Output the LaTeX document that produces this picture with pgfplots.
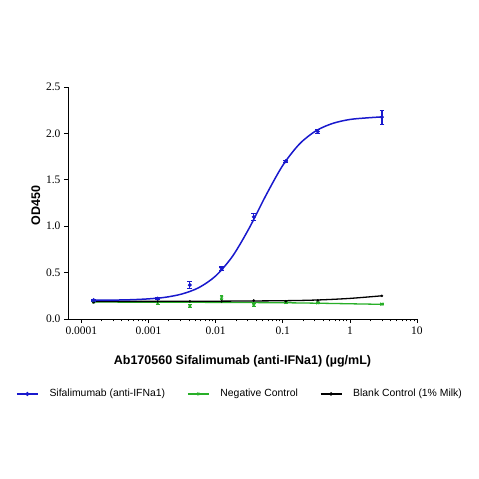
\documentclass[border=0pt]{standalone}
\usepackage{pgfplots}
\pgfplotsset{compat=1.18}
\usepackage{fontspec}
\setmainfont{Liberation Serif}
\newfontfamily\arial{Liberation Sans}
\definecolor{cblue}{RGB}{25,25,205}
\definecolor{cgreen}{RGB}{40,175,40}
\begin{document}
\begin{tikzpicture}
\path[use as bounding box] (0,0) rectangle (479pt,479pt);
\begin{axis}[
  at={(68pt,160pt)}, anchor=south west,
  name=ax,
  scale only axis, width=349pt, height=232pt,
  xmode=log, xmin=6.31e-5, xmax=10, ymin=0, ymax=2.5,
  axis x line*=bottom, axis y line*=left,
  axis line style={line width=0.8pt},
  tick align=outside,
  major tick length=4pt, minor tick length=2.5pt,
  every tick/.style={black, line width=0.7pt},
  xtick={0.0001,0.001,0.01,0.1,1,10},
  xticklabels={0.0001,0.001,0.01,0.1,1,10},
  ytick={0,0.5,1,1.5,2,2.5},
  yticklabel style={/pgf/number format/fixed, /pgf/number format/fixed zerofill, /pgf/number format/precision=1},
  /pgf/number format/assume math mode=true,
  tick label style={font=\fontsize{11.5}{13}\selectfont},
  xlabel={\arial\bfseries Ab170560 Sifalimumab (anti-IFNa1) (µg/mL)},
  ylabel={\arial\bfseries OD450},
  label style={font=\fontsize{12.5}{14}\selectfont},
  xlabel style={at={(axis description cs:0.5,-0.184)}, anchor=center},
  ylabel style={at={(axis description cs:-0.092,0.49)}, anchor=center},
  legend columns=3,
  legend style={draw=none, at={(axis description cs:0.493,-0.323)}, anchor=center,
    font=\arial\fontsize{10.4}{12}\selectfont,
    /tikz/every odd column/.append style={column sep=9pt},
    /tikz/every even column/.append style={column sep=20pt}},
  legend image code/.code={\draw[#1] (0pt,0pt) -- (21pt,0pt); \draw[#1, only marks] plot coordinates {(10.5pt,0pt)};},
  clip=false,
]
% legend entries
\addlegendimage{cblue, line width=1.3pt, mark=*, mark size=1.3pt}
\addlegendentry{Sifalimumab (anti-IFNa1)}
\addlegendimage{cgreen, line width=1.3pt, mark=x, mark size=1.6pt}
\addlegendentry{Negative Control}
\addlegendimage{black, line width=1.3pt, mark=*, mark size=1pt}
\addlegendentry{Blank Control (1\% Milk)}

% green fit
\addplot[cgreen, line width=1.3pt, smooth, forget plot] coordinates {
(0.000152,0.183) (0.001,0.181) (0.01,0.179) (0.1,0.175) (0.333,0.170) (1,0.164) (3,0.158)};
% black fit
\addplot[black, line width=1.3pt, smooth, forget plot] coordinates {
(0.000152,0.19) (0.001,0.19) (0.01,0.192) (0.1,0.197) (0.333,0.205) (1,0.222) (3,0.25)};
% blue fit
\addplot[cblue, line width=1.5pt, smooth, forget plot] coordinates {
(0.000151,0.202) (0.000316,0.204) (0.000562,0.208) (0.001,0.217) (0.00178,0.234)
(0.00316,0.270) (0.00562,0.338) (0.01,0.464) (0.0178,0.675) (0.0316,0.979)
(0.0562,1.333) (0.1,1.655) (0.178,1.887) (0.316,2.030) (0.562,2.109)
(1,2.150) (1.78,2.167) (3.0,2.178)};

% green data
\addplot[cgreen, only marks, mark=x, mark size=2pt, line width=1pt, forget plot,
  error bars/.cd, y dir=both, y explicit, error bar style={line width=0.9pt}, error mark options={rotate=90, mark size=1.8pt, line width=0.9pt}]
coordinates {
(0.000152,0.185) +- (0,0.005)
(0.00137,0.17) +- (0,0.008)
(0.00412,0.14) +- (0,0.015)
(0.0123,0.235) +- (0,0.02)
(0.037,0.15) +- (0,0.015)
(0.111,0.18) +- (0,0.008)
(0.333,0.175) +- (0,0.008)
(3,0.16) +- (0,0.008)};
% black data
\addplot[black, only marks, mark=*, mark size=1.1pt, forget plot] coordinates {
(0.000152,0.18) (0.00137,0.19) (0.00412,0.19) (0.0123,0.19) (0.037,0.2) (0.111,0.19) (0.333,0.2) (3,0.25)};
% blue data
\addplot[cblue, only marks, mark=*, mark size=1.8pt, forget plot,
  error bars/.cd, y dir=both, y explicit, error bar style={line width=1.2pt}, error mark options={rotate=90, mark size=2.4pt, line width=1.2pt}]
coordinates {
(0.000152,0.204) +- (0,0.01)
(0.00137,0.22) +- (0,0.01)
(0.00412,0.366) +- (0,0.04)
(0.0123,0.54) +- (0,0.02)
(0.037,1.10) +- (0,0.04)
(0.111,1.70) +- (0,0.01)
(0.333,2.02) +- (0,0.025)
(3,2.175) +- (0,0.075)};
\end{axis}
\end{tikzpicture}
\end{document}
